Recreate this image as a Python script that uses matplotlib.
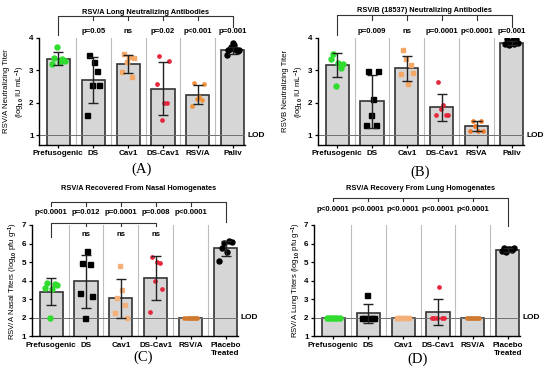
import numpy as np
import matplotlib
matplotlib.use('Agg')
import matplotlib.pyplot as plt

plt.rcParams['font.family'] = 'Liberation Sans'
plt.rcParams['font.weight'] = 'bold'
plt.rcParams['font.size'] = 5.3
plt.rcParams['mathtext.fontset'] = 'custom'
plt.rcParams['mathtext.rm'] = 'Liberation Sans:bold'
plt.rcParams['mathtext.it'] = 'Liberation Sans:bold'
plt.rcParams['mathtext.bf'] = 'Liberation Sans:bold'

groups_a = ['Prefusogenic', 'DS', 'Cav1', 'DS-Cav1', 'RSV/A', 'Paliv']
groups_b = ['Prefusogenic', 'DS', 'Cav1', 'DS-Cav1', 'RSVA', 'Paliv']
groups_cd = ['Prefusogenic', 'DS', 'Cav1', 'DS-Cav1', 'RSV/A', 'Placebo\nTreated']

# (A) RSV/A neutralizing titers
a_mean = [3.35, 2.71, 3.19, 2.43, 2.25, 3.61]
a_sd = [0.20, 0.71, 0.29, 0.81, 0.30, 0.10]
a_pts = [[3.20, 3.37, 3.73, 3.26, 3.34, 3.30],
         [1.61, 3.46, 2.54, 3.24, 2.98, 2.54],
         [2.94, 3.50, 3.25, 3.40, 2.79, 3.37],
         [2.59, 3.43, 1.46, 1.99, 1.99, 3.28],
         [1.89, 2.62, 2.10, 2.18, 2.07, 2.56],
         [3.46, 3.61, 3.66, 3.73, 3.84, 3.78, 3.63, 3.59, 3.61]]
a_p = ['', 'p=0.05', 'ns', 'p=0.02', 'p<0.001', 'p=0.001']

# (B) RSV/B (18537) neutralizing titers
b_mean = [3.16, 2.04, 3.06, 1.85, 1.28, 3.85]
b_sd = [0.38, 0.81, 0.39, 0.41, 0.16, 0.06]
b_pts = [[3.35, 3.51, 2.50, 3.23, 3.08, 3.20],
         [1.31, 2.97, 1.61, 2.10, 1.31, 2.97],
         [2.89, 3.61, 3.35, 2.59, 3.15, 2.91],
         [1.61, 2.64, 1.80, 1.92, 1.61, 1.61],
         [1.11, 1.44, 1.28, 1.11, 1.44, 1.11],
         [3.82, 3.97, 3.78, 3.88, 3.92, 3.80, 3.95, 3.85]]
b_p = ['', 'p=0.009', 'ns', 'p=0.0001', 'p<0.0001', 'p=0.001']

# (C) nasal titers
c_mean = [3.39, 3.95, 3.03, 4.13, 2.00, 5.74]
c_sd = [0.73, 1.43, 1.04, 1.17, 0.00, 0.41]
c_pts = [[3.60, 3.86, 2.00, 3.52, 3.80, 3.75],
         [3.35, 4.92, 2.00, 5.61, 4.89, 3.17],
         [2.27, 3.03, 4.80, 3.48, 2.67, 2.00],
         [2.30, 5.25, 3.95, 5.00, 4.95, 3.55],
         [2.00, 2.00, 2.00, 2.00, 2.00, 2.00, 2.00],
         [5.07, 5.74, 6.03, 5.56, 6.12, 6.06]]
c_p = ['p<0.0001', 'p=0.012', 'p=0.0001', 'p=0.008', 'p<0.0001', '']
c_ns = ['', 'ns', 'ns', 'ns']

# (D) lung titers
d_mean = [2.00, 2.22, 2.00, 2.28, 2.00, 5.64]
d_sd = [0.00, 0.52, 0.00, 0.70, 0.00, 0.10]
d_pts = [[2.00, 2.00, 2.00, 2.00, 2.00, 2.00, 2.00],
         [2.00, 2.00, 3.22, 2.00, 2.00, 2.00],
         [2.00, 2.00, 2.00, 2.00, 2.00, 2.00, 2.00],
         [2.00, 2.00, 2.00, 3.67, 2.00, 2.00],
         [2.00, 2.00, 2.00, 2.00, 2.00, 2.00, 2.00],
         [5.60, 5.77, 5.55, 5.71, 5.68, 5.66, 5.75]]
d_p = ['p<0.0001'] * 5 + ['']

colors_ab = ['#2fdc2f', 'black', '#f5a866', '#e5273c', '#f0923c', 'black']
colors_b = ['#2fdc2f', 'black', '#f5a866', '#e5273c', '#f07a2a', 'black']
colors_cd = ['#2fdc2f', 'black', '#f5b07a', '#e5273c', '#d07a30', 'black']
markers = ['o', 's', 's', 'o', 'o', 'o']
msizes = [3.6, 3.6, 3.4, 2.4, 2.4, 3.6]

fig = plt.figure(figsize=(5.5, 3.86), dpi=100)
ax_a = fig.add_axes([0.071, 0.625, 0.3745, 0.277])
ax_b = fig.add_axes([0.578, 0.625, 0.3745, 0.277])
ax_c = fig.add_axes([0.058, 0.1295, 0.3745, 0.2876])
ax_d = fig.add_axes([0.571, 0.1295, 0.3745, 0.2876])


def draw_panel(ax, labels, means, sds, pts, colors, ylim, lod):
    x = np.arange(len(labels))
    for k in range(len(labels) - 1):
        ax.axvline(k + 0.5, color='#bdbdbd', lw=0.8, zorder=0)
    ax.bar(x, means, width=0.66, color='#d6d6d6', edgecolor='#333333',
           linewidth=1.2, zorder=1)
    ax.axhline(lod, color='#707070', lw=0.7, zorder=2)
    for i, vals in enumerate(pts):
        off = np.linspace(-0.18, 0.18, len(vals))
        ax.plot(x[i] + off, vals, ls='none', marker=markers[i],
                ms=msizes[i], color=colors[i], mec=colors[i], zorder=3)
        if sds[i] > 0:
            ax.errorbar(x[i], means[i], yerr=sds[i], fmt='none',
                        ecolor='#222222', elinewidth=1.0, capsize=3.6,
                        capthick=1.0, zorder=4)
    ax.set_xlim(-0.55, 5.35)
    ax.set_ylim(*ylim)
    ax.set_xticks(x)
    ax.set_xticklabels(labels)
    ax.spines['top'].set_visible(False)
    ax.spines['right'].set_visible(False)
    ax.spines['left'].set_linewidth(1.0)
    ax.spines['bottom'].set_linewidth(1.0)
    ax.tick_params(axis='both', length=2.5, width=0.9, pad=1.5, labelsize=5.8)
    ax.text(5.42, lod, 'LOD', va='center', ha='left', fontsize=6)


def bracket(ax, y_line, y_tick, x0, y0, x1, y1, tick_xs):
    ax.plot([x0, x0, x1, x1], [y0, y_line, y_line, y1], color='#333333',
            lw=0.8, clip_on=False)
    for xt in tick_xs:
        ax.plot([xt, xt], [y_line, y_tick], color='#333333', lw=0.8,
                clip_on=False)


draw_panel(ax_a, groups_a, a_mean, a_sd, a_pts, colors_ab, (0.7, 4.0), 1)
ax_a.set_yticks([1, 2, 3, 4])
ax_a.set_ylabel('RSV/A Neutralizing Titer\n(log$_{10}$ IU mL$^{-1}$)',
                fontsize=5.6, labelpad=1.5, linespacing=1.4)
bracket(ax_a, 4.66, 4.54, 0, 4.08, 5, 4.32, [1, 2, 3, 4])
ax_a.text(2.5, 4.79, 'RSV/A Long Neutralizing Antibodies', ha='center',
          va='center', fontsize=5.3)
for i, t in enumerate(a_p):
    ax_a.text(i, 4.18, t, ha='center', va='center', fontsize=5.6)

draw_panel(ax_b, groups_b, b_mean, b_sd, b_pts, colors_b, (0.7, 4.0), 1)
ax_b.set_yticks([1, 2, 3, 4])
ax_b.set_ylabel('RSVB Neutralizing Titer\n(log$_{10}$ IU mL$^{-1}$)',
                fontsize=5.6, labelpad=1.5, linespacing=1.4)
bracket(ax_b, 4.69, 4.55, 0, 4.08, 5, 4.32, [1, 2, 3, 4])
ax_b.text(2.5, 4.84, 'RSV/B (18537) Neutralizing Antibodies', ha='center',
          va='center', fontsize=5.3)
for i, t in enumerate(b_p):
    ax_b.text(i, 4.18, t, ha='center', va='center', fontsize=5.6)

draw_panel(ax_c, groups_cd, c_mean, c_sd, c_pts, colors_cd, (1, 7), 2)
ax_c.set_yticks(range(1, 8))
ax_c.set_ylabel('RSV/A Nasal Titers (log$_{10}$ pfu g$^{-1}$)',
                fontsize=5.6, labelpad=1)
bracket(ax_c, 8.24, 8.05, 0, 8.05, 5, 7.16, [1, 2, 3, 4])
ax_c.text(2.5, 8.98, 'RSV/A Recovered From Nasal Homogenates', ha='center',
          va='center', fontsize=5.3)
for i, t in enumerate(c_p):
    ax_c.text(i, 7.65, t, ha='center', va='center', fontsize=5.6)
bracket(ax_c, 7.1, 6.95, 0, 6.35, 3, 6.95, [1, 2])
for i, t in enumerate(c_ns):
    ax_c.text(i, 6.5, t, ha='center', va='center', fontsize=5.6)

draw_panel(ax_d, groups_cd, d_mean, d_sd, d_pts, colors_cd, (1, 7), 2)
ax_d.set_yticks(range(1, 8))
ax_d.set_ylabel('RSV/A Lung Titers (log$_{10}$ pfu g$^{-1}$)',
                fontsize=5.6, labelpad=1)
bracket(ax_d, 8.48, 8.28, 0, 8.28, 5, 6.95, [1, 2, 3, 4])
ax_d.text(2.5, 8.98, 'RSV/A Recovery From Lung Homogenates', ha='center',
          va='center', fontsize=5.3)
for i, t in enumerate(d_p):
    ax_d.text(i, 7.86, t, ha='center', va='center', fontsize=5.6)

for xl, yl, lab in [(0.258, 0.562, '(A)'), (0.764, 0.555, '(B)'),
                    (0.26, 0.075, '(C)'), (0.76, 0.07, '(D)')]:
    fig.text(xl, yl, lab, ha='center', va='center', fontsize=10.5,
             family='Liberation Serif', weight='normal')

fig.savefig('out.png', dpi=100)
